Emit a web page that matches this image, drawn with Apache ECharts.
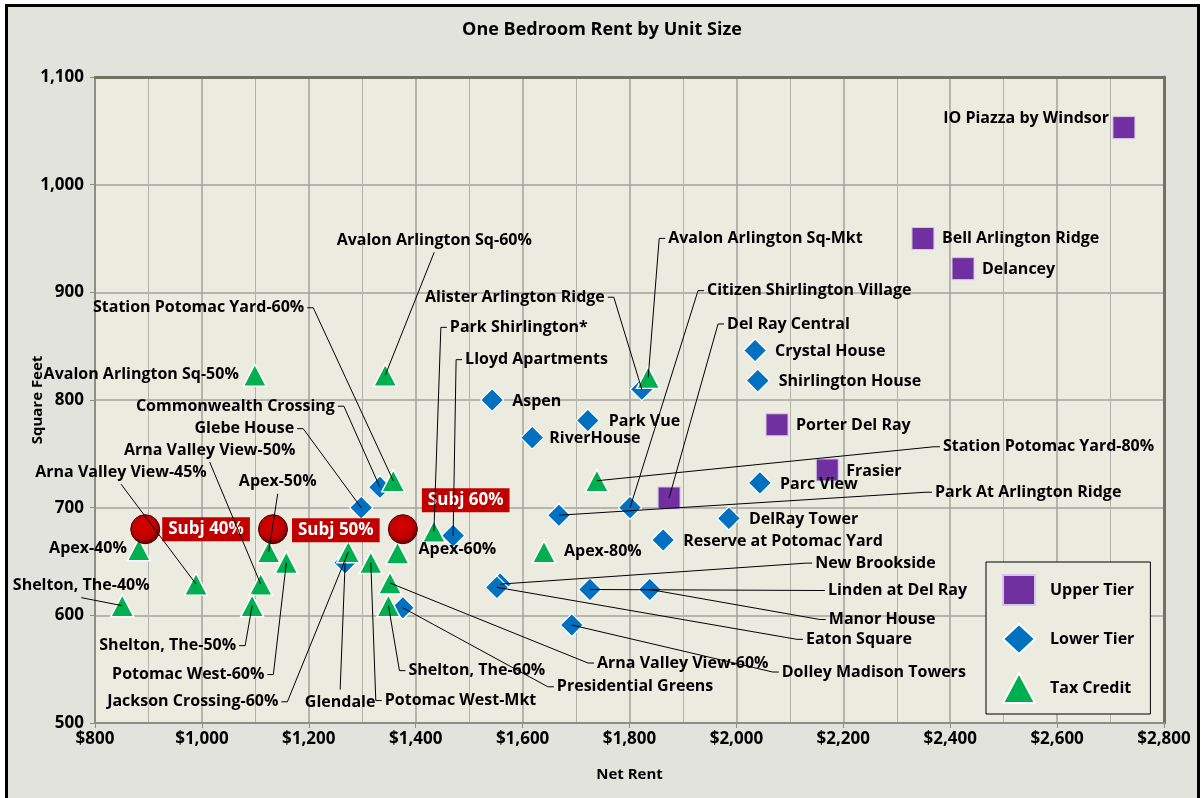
<!DOCTYPE html>
<html>
<head>
<meta charset="utf-8">
<script src="https://cdn.jsdelivr.net/npm/echarts@6/dist/echarts.min.js"></script>
<style>
body { margin: 0; background: #fff; }
#frame { position: absolute; left: 5px; top: 4px; width: 1189px; height: 800px; border: 3px solid #000; background: #E3E3DE; }
#main { position: absolute; left: 0; top: 0; width: 1204px; height: 798px; }
</style>
</head>
<body>
<div id="frame"></div>
<div id="main"></div>
<script>
// Upper Tier
var upperNames = ['IO Piazza by Windsor', 'Bell Arlington Ridge', 'Delancey', 'Porter Del Ray', 'Frasier', 'Del Ray Central'];
var upperRent = [2725, 2349, 2424, 2076, 2170, 1874];
var upperSqft = [1053, 950, 922, 777, 735, 709];

// Lower Tier
var lowerNames = ['Crystal House', 'Shirlington House', 'Parc View', 'DelRay Tower', 'Reserve at Potomac Yard',
	'Park At Arlington Ridge', 'Citizen Shirlington Village', 'Alister Arlington Ridge', 'Park Vue', 'Aspen',
	'RiverHouse', 'Linden at Del Ray', 'Manor House', 'New Brookside', 'Eaton Square', 'Dolley Madison Towers',
	'Presidential Greens', 'Glendale', 'Glebe House', 'Commonwealth Crossing', 'Lloyd Apartments'];
var lowerRent = [2035, 2040, 2044, 1986, 1863, 1668, 1801, 1823, 1722, 1543, 1618, 1726, 1838, 1558, 1552, 1692, 1376, 1268, 1298, 1333, 1470];
var lowerSqft = [846, 818, 723, 690, 670, 693, 700, 810, 781, 800, 765, 624, 624, 629, 626, 591, 607, 649, 700, 719, 674];

// Tax Credit
var taxNames = ['Avalon Arlington Sq-50%', 'Avalon Arlington Sq-60%', 'Avalon Arlington Sq-Mkt', 'Station Potomac Yard-60%',
	'Station Potomac Yard-80%', 'Park Shirlington*', 'Apex-40%', 'Shelton, The-40%', 'Arna Valley View-45%',
	'Arna Valley View-50%', 'Shelton, The-50%', 'Potomac West-60%', 'Apex-50%', 'Jackson Crossing-60%',
	'Potomac West-Mkt', 'Apex-60%', 'Arna Valley View-60%', 'Shelton, The-60%', 'Apex-80%'];
var taxRent = [1099, 1343, 1835, 1358, 1739, 1434, 882, 851, 989, 1110, 1094, 1158, 1125, 1274, 1316, 1366, 1352, 1349, 1640];
var taxSqft = [823, 823, 821, 725, 725, 678, 661, 609, 629, 629, 609, 649, 659, 659, 649, 658, 630, 609, 659];

// Subject
var subjNames = ['Subj 40%', 'Subj 50%', 'Subj 60%'];
var subjRent = [894, 1133, 1376];
var subjSqft = [680, 680, 680];

// label placement: [dx, dy from point centre, align, leader line]
var labelPlace = {
	'IO Piazza by Windsor': [-15, -9, 'right', 0],
	'Bell Arlington Ridge': [19, 0, 'left', 0],
	'Delancey': [19, 1, 'left', 0],
	'Porter Del Ray': [19, 1, 'left', 0],
	'Frasier': [19, 1, 'left', 0],
	'Del Ray Central': [58, -174, 'left', 1],
	'Crystal House': [20, 1, 'left', 0],
	'Shirlington House': [21, 1, 'left', 0],
	'Parc View': [20, 2, 'left', 0],
	'DelRay Tower': [20, 1, 'left', 0],
	'Reserve at Potomac Yard': [20, 1, 'left', 0],
	'Park At Arlington Ridge': [376, -23, 'left', 1],
	'Citizen Shirlington Village': [77, -217, 'left', 1],
	'Alister Arlington Ridge': [-37, -92, 'right', 1],
	'Park Vue': [21, 1, 'left', 0],
	'Aspen': [20, 1, 'left', 0],
	'RiverHouse': [17, 1, 'left', 0],
	'Linden at Del Ray': [238, 1, 'left', 1],
	'Manor House': [179, 30, 'left', 1],
	'New Brookside': [315, -21, 'left', 1],
	'Eaton Square': [309, 52, 'left', 1],
	'Dolley Madison Towers': [210, 47, 'left', 1],
	'Presidential Greens': [154, 79, 'left', 1],
	'Glendale': [-5, 140, 'center', 1],
	'Glebe House': [-67, -79, 'right', 1],
	'Commonwealth Crossing': [-45, -81, 'right', 1],
	'Lloyd Apartments': [12, -176, 'left', 1],
	'Avalon Arlington Sq-50%': [-16, -1, 'right', 0],
	'Avalon Arlington Sq-60%': [49, -135, 'center', 1],
	'Avalon Arlington Sq-Mkt': [20, -139, 'left', 1],
	'Station Potomac Yard-60%': [-89, -173, 'right', 1],
	'Station Potomac Yard-80%': [346, -34, 'left', 1],
	'Park Shirlington*': [16, -204, 'left', 1],
	'Apex-40%': [-12, -1, 'right', 0],
	'Shelton, The-40%': [-41, -20, 'center', 1],
	'Arna Valley View-45%': [-75, -112, 'center', 1],
	'Arna Valley View-50%': [-51, -134, 'center', 1],
	'Shelton, The-50%': [-16, 40, 'right', 1],
	'Potomac West-60%': [-22, 112, 'right', 1],
	'Apex-50%': [9, -70, 'center', 1],
	'Jackson Crossing-60%': [-70, 150, 'right', 1],
	'Potomac West-Mkt': [14, 138, 'left', 1],
	'Apex-60%': [21, -3, 'left', 0],
	'Arna Valley View-60%': [207, 80, 'left', 1],
	'Shelton, The-60%': [20, 65, 'left', 1],
	'Apex-80%': [20, 0, 'left', 0],
	'Subj 40%': [17, 0, 'left', 0],
	'Subj 50%': [19, 1, 'left', 0],
	'Subj 60%': [19, -29, 'left', 0]
};

var FONT = 'Open Sans';

function buildData(names, rent, sqft) {
	var arr = [];
	for (var i = 0; i < names.length; i++) {
		arr.push({ name: names[i], value: [rent[i], sqft[i]] });
	}
	return arr;
}

function placeLabel(names) {
	return function (params) {
		var o = labelPlace[names[params.dataIndex]];
		if (!o) return {};
		var cx = params.rect.x + params.rect.width / 2;
		var cy = params.rect.y + params.rect.height / 2;
		return { x: cx + o[0], y: cy + o[1], align: o[2], verticalAlign: 'middle' };
	};
}

// leader lines, Excel style: from the point centre to the label with a short tick
var leaderNames = [], leaderData = [];
[[upperNames, upperRent, upperSqft], [lowerNames, lowerRent, lowerSqft], [taxNames, taxRent, taxSqft]].forEach(function (s) {
	for (var i = 0; i < s[0].length; i++) {
		var p = labelPlace[s[0][i]];
		if (p && p[3]) {
			leaderNames.push(s[0][i]);
			leaderData.push([s[1][i], s[2][i]]);
		}
	}
});

function renderLeader(params, api) {
	var pt = api.coord([api.value(0), api.value(1)]);
	var o = labelPlace[leaderNames[params.dataIndex]];
	var ax = pt[0] + o[0], ay = pt[1] + o[1];
	var pts;
	if (o[2] === 'left') {
		pts = [[pt[0], pt[1]], [ax - 9, ay], [ax - 3, ay]];
	} else if (o[2] === 'right') {
		pts = [[pt[0], pt[1]], [ax + 9, ay], [ax + 3, ay]];
	} else {
		var ey = o[1] < 0 ? ay + 12 : ay - 13;
		pts = [[pt[0], pt[1]], [ax, ey]];
	}
	return {
		type: 'polyline',
		shape: { points: pts },
		style: { stroke: '#000', lineWidth: 1, fill: null }
	};
}

var pointLabel = {
	show: true,
	formatter: '{b}',
	position: 'right',
	color: '#000',
	fontFamily: FONT,
	fontWeight: 'bold',
	fontSize: 16
};

function thousands(v) {
	return String(v).replace(/\B(?=(\d{3})+(?!\d))/g, ',');
}

var myChart = echarts.init(document.getElementById('main'), null, { renderer: 'canvas' });

option = {
	backgroundColor: 'transparent',
	animation: false,
	title: {
		text: 'One Bedroom Rent by Unit Size',
		left: 'center',
		top: 21,
		padding: 0,
		textStyle: { fontFamily: FONT, fontWeight: 'bold', fontSize: 18, color: '#000' }
	},
	legend: {
		orient: 'vertical',
		left: 986,
		top: 562,
		padding: [12, 16, 10, 16],
		itemWidth: 32,
		itemHeight: 30,
		itemGap: 17,
		borderColor: '#000',
		borderWidth: 1,
		backgroundColor: '#EBEBE0',
		textStyle: { fontFamily: FONT, fontWeight: 'bold', fontSize: 16, color: '#000', padding: [0, 0, 0, 10] },
		data: [
			{ name: 'Upper Tier', icon: 'rect' },
			{ name: 'Lower Tier', icon: 'diamond' },
			{ name: 'Tax Credit', icon: 'triangle' }
		]
	},
	grid: {
		left: 95,
		right: 40,
		top: 77,
		bottom: 75,
		show: true,
		backgroundColor: '#EBEBE0',
		borderWidth: 0
	},
	xAxis: [{
		type: 'value',
		min: 800,
		max: 2800,
		interval: 200,
		name: 'Net Rent',
		nameLocation: 'middle',
		nameGap: 44,
		nameTextStyle: { fontFamily: FONT, fontWeight: 'bold', fontSize: 15, color: '#000' },
		axisLine: { show: true, lineStyle: { color: '#8E8E84', width: 2 } },
		axisTick: { show: true, length: 5, lineStyle: { color: '#8E8E84' } },
		axisLabel: {
			margin: 8,
			fontFamily: FONT, fontWeight: 'bold', fontSize: 17, color: '#000',
			formatter: function (v) { return '$' + thousands(v); }
		},
		splitLine: { show: true, lineStyle: { color: '#A3A39C', width: 1.5 } },
		minorTick: { show: false, splitNumber: 2 },
		minorSplitLine: { show: true, lineStyle: { color: '#B2B2AA', width: 1 } }
	}, {
		type: 'value',
		position: 'top',
		min: 800,
		max: 2800,
		axisLine: { show: true, onZero: false, lineStyle: { color: '#727264', width: 3 } },
		axisTick: { show: false },
		axisLabel: { show: false },
		splitLine: { show: false }
	}],
	yAxis: [{
		type: 'value',
		min: 500,
		max: 1100,
		interval: 100,
		name: 'Square Feet',
		nameLocation: 'middle',
		nameRotate: 90,
		nameGap: 50,
		nameMoveOverlap: false,
		nameTextStyle: { fontFamily: FONT, fontWeight: 'bold', fontSize: 15, color: '#000' },
		axisLine: { show: true, lineStyle: { color: '#8E8E84', width: 2 } },
		axisTick: { show: true, length: 5, lineStyle: { color: '#8E8E84' } },
		axisLabel: {
			margin: 11,
			fontFamily: FONT, fontWeight: 'bold', fontSize: 17, color: '#000',
			formatter: function (v) { return thousands(v); }
		},
		splitLine: { show: true, lineStyle: { color: '#A3A39C', width: 1.5 } }
	}, {
		type: 'value',
		position: 'right',
		min: 500,
		max: 1100,
		axisLine: { show: true, onZero: false, lineStyle: { color: '#727264', width: 3 } },
		axisTick: { show: false },
		axisLabel: { show: false },
		splitLine: { show: false }
	}],
	series: [{
		name: 'Upper Tier',
		type: 'scatter',
		symbol: 'rect',
		symbolSize: 22,
		itemStyle: { color: '#7030A0', borderColor: '#D8C6EA', borderWidth: 1, opacity: 1 },
		label: pointLabel,
		labelLayout: placeLabel(upperNames),
		emphasis: { disabled: true },
		data: buildData(upperNames, upperRent, upperSqft)
	}, {
		name: 'Lower Tier',
		type: 'scatter',
		symbol: 'diamond',
		symbolSize: 23,
		itemStyle: { color: '#0070C0', borderColor: '#FFFFFF', borderWidth: 1.2, opacity: 1 },
		label: pointLabel,
		labelLayout: placeLabel(lowerNames),
		emphasis: { disabled: true },
		data: buildData(lowerNames, lowerRent, lowerSqft)
	}, {
		name: 'Tax Credit',
		type: 'scatter',
		symbol: 'triangle',
		symbolSize: [23, 22],
		itemStyle: { color: '#00B050', borderColor: '#FFFFFF', borderWidth: 1.5, opacity: 1 },
		label: pointLabel,
		labelLayout: placeLabel(taxNames),
		emphasis: { disabled: true },
		data: buildData(taxNames, taxRent, taxSqft)
	}, {
		name: 'Subject',
		type: 'scatter',
		symbol: 'circle',
		symbolSize: 29,
		itemStyle: {
			opacity: 1,
			color: {
				type: 'radial', x: 0.45, y: 0.4, r: 0.6,
				colorStops: [
					{ offset: 0, color: '#D80000' },
					{ offset: 0.65, color: '#C00000' },
					{ offset: 1, color: '#6E0000' }
				]
			},
			borderColor: '#3A0000',
			borderWidth: 1
		},
		label: {
			show: true,
			formatter: '{b}',
			position: 'right',
			color: '#FFFFFF',
			backgroundColor: '#C00000',
			padding: [4, 6, 3, 6],
			fontFamily: FONT,
			fontWeight: 'bold',
			fontSize: 17
		},
		labelLayout: placeLabel(subjNames),
		emphasis: { disabled: true },
		data: buildData(subjNames, subjRent, subjSqft)
	}, {
		name: 'leaders',
		type: 'custom',
		silent: true,
		z: 3,
		renderItem: renderLeader,
		data: leaderData
	}]
};
myChart.setOption(option);
</script>
</body>
</html>
